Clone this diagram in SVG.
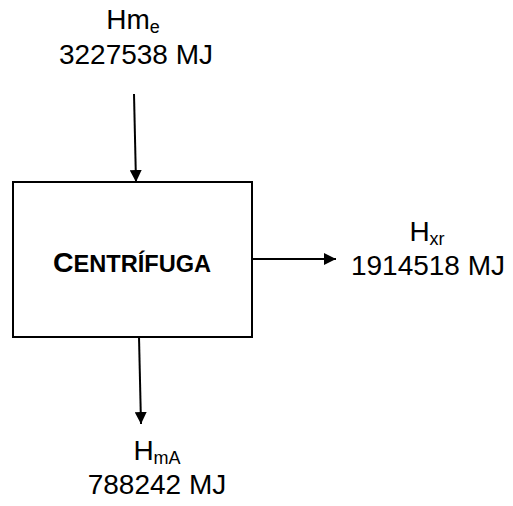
<svg xmlns="http://www.w3.org/2000/svg" width="513" height="506" viewBox="0 0 513 506">
<defs>
<marker id="ah" viewBox="0 0 12 12" refX="12" refY="6" markerWidth="12" markerHeight="12" markerUnits="userSpaceOnUse" orient="auto">
<path d="M0,0 L12,6 L0,12 z" fill="#000"/>
</marker>
<style>
.lbl{font-family:"Liberation Sans",Arial,sans-serif;font-size:28px;fill:#000;text-anchor:middle}
.sub{font-size:18px}
.box{fill:#fff;stroke:#000;stroke-width:2}
.con{stroke:#000;stroke-width:2;fill:none}
.ttl{font-family:"Liberation Sans",Arial,sans-serif;font-weight:bold;fill:#000;text-anchor:middle}
</style>
</defs>
<rect width="513" height="506" fill="#fff"/>
<g id="connectors">
<line class="con" x1="134" y1="94" x2="136" y2="182" marker-end="url(#ah)"/>
<line class="con" x1="253" y1="259" x2="336" y2="259" marker-end="url(#ah)"/>
<line class="con" x1="139" y1="337" x2="141" y2="424" marker-end="url(#ah)"/>
</g>
<g id="centrifuga">
<rect class="box" x="13" y="182" width="239" height="155"/>
<text class="ttl" x="132" y="272"><tspan font-size="28.5">C</tspan><tspan font-size="23.6">ENTRÍFUGA</tspan></text>
</g>
<g id="hme">
<text class="lbl" x="133" y="29">Hm<tspan class="sub" dy="4">e</tspan></text>
<text class="lbl" x="136" y="64">3227538 MJ</text>
</g>
<g id="hxr">
<text class="lbl" x="427" y="241">H<tspan class="sub" dy="4">xr</tspan></text>
<text class="lbl" x="428" y="275">1914518 MJ</text>
</g>
<g id="hma">
<text class="lbl" x="157" y="460">H<tspan class="sub" dy="4">mA</tspan></text>
<text class="lbl" x="157" y="494">788242 MJ</text>
</g>
</svg>
